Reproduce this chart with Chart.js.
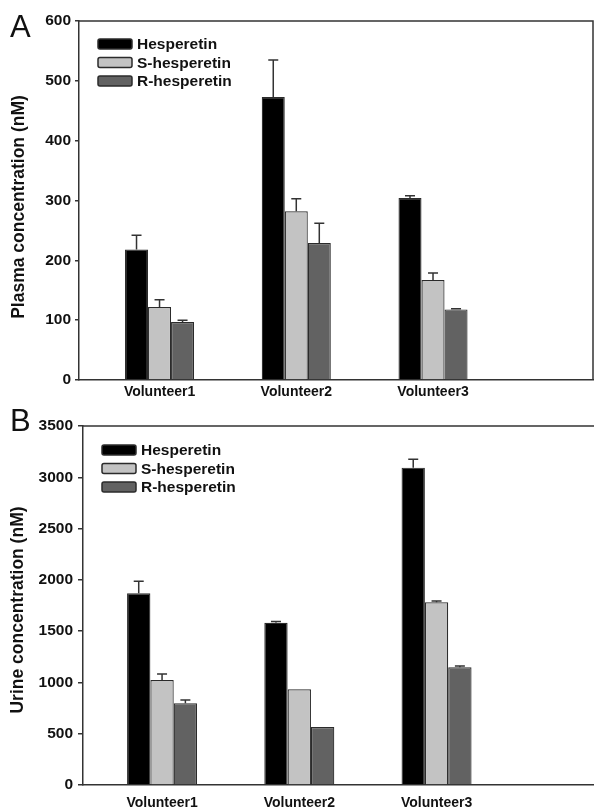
<!DOCTYPE html>
<html><head><meta charset="utf-8">
<script src="https://cdn.jsdelivr.net/npm/chart.js@4.4.1/dist/chart.umd.min.js"></script>
<style>
html,body{margin:0;padding:0;background:#fff;overflow:hidden;width:594px;height:812px;}
.panel{position:absolute;left:0;width:600px;height:406px;}
#pa{top:0}#pb{top:406px}
</style></head><body>
<div class="panel" id="pa"><canvas id="ca" width="600" height="406"></canvas></div>
<div class="panel" id="pb"><canvas id="cb" width="600" height="406"></canvas></div>
<script>
// ---- data ----
const categories = ['Volunteer1', 'Volunteer2', 'Volunteer3'];
const seriesNames = ['Hesperetin', 'S-hesperetin', 'R-hesperetin'];

const plasmaHesperetin    = [218, 473, 304];
const plasmaHesperetinErr = [24, 62, 4];
const plasmaS             = [122, 282, 167];
const plasmaSErr          = [12, 21, 12];
const plasmaR             = [97, 229, 118];
const plasmaRErr          = [3, 33, 1];
const plasmaTicks = [0, 100, 200, 300, 400, 500, 600];

const urineHesperetin    = [1869, 1582, 3094];
const urineHesperetinErr = [117, 12, 81];
const urineS             = [1024, 933, 1782];
const urineSErr          = [58, 0, 13];
const urineR             = [796, 565, 1147];
const urineRErr          = [33, 0, 13];
const urineTicks = [0, 500, 1000, 1500, 2000, 2500, 3000, 3500];

// ---- styling ----
const FONT = "'Liberation Sans', Arial, Helvetica, sans-serif";
const fills = ['#000000', '#c3c3c3', '#626262'];
const edge = '#2b2b2b';
Chart.defaults.font.family = FONT;
Chart.defaults.color = '#111';

function makeChart(canvas, cfg) {
  const datasets = cfg.series.map((vals, i) => ({
    label: seriesNames[i],
    data: vals.map((v, j) => ({ x: j + 1, y: v })),
    backgroundColor: fills[i],
    borderColor: edge,
    borderWidth: 1.2,
    categoryPercentage: cfg.catPct,
    barPercentage: 1.0
  }));

  const errorBars = {
    id: 'errorBars',
    afterDatasetsDraw(chart) {
      const ctx = chart.ctx, ys = chart.scales.y;
      ctx.save();
      ctx.strokeStyle = '#333';
      ctx.lineWidth = 1.5;
      cfg.errors.forEach((errs, di) => {
        const meta = chart.getDatasetMeta(di);
        meta.data.forEach((bar, j) => {
          const e = errs[j];
          if (!e) return;
          const yt = ys.getPixelForValue(cfg.series[di][j] + e);
          ctx.beginPath();
          ctx.moveTo(bar.x, bar.y);
          ctx.lineTo(bar.x, yt);
          ctx.moveTo(bar.x - 5, yt);
          ctx.lineTo(bar.x + 5, yt);
          ctx.stroke();
        });
      });
      ctx.restore();
    }
  };

  const decorations = {
    id: 'decorations',
    afterDraw(chart) {
      const ctx = chart.ctx, a = chart.chartArea;
      ctx.save();
      // frame top & right
      ctx.strokeStyle = '#333';
      ctx.lineWidth = 1.5;
      ctx.beginPath();
      ctx.moveTo(a.left, a.top);
      ctx.lineTo(a.right, a.top);
      ctx.lineTo(a.right, a.bottom);
      ctx.stroke();
      // legend
      const lx = a.left + cfg.legendDx;
      seriesNames.forEach((name, i) => {
        const cy = a.top + cfg.legendDy + i * 18.5;
        ctx.fillStyle = fills[i];
        ctx.strokeStyle = edge;
        ctx.lineWidth = 1.5;
        ctx.beginPath();
        if (ctx.roundRect) ctx.roundRect(lx, cy - 5, 34, 10, 2); else ctx.rect(lx, cy - 5, 34, 10);
        ctx.fill();
        ctx.stroke();
        ctx.fillStyle = '#111';
        ctx.font = 'bold 15.5px ' + FONT;
        ctx.textAlign = 'left';
        ctx.textBaseline = 'middle';
        ctx.fillText(name, lx + 39, cy + 1);
      });
      // panel letter
      ctx.fillStyle = '#111';
      ctx.font = '31px ' + FONT;
      ctx.textAlign = 'left';
      ctx.textBaseline = 'alphabetic';
      ctx.fillText(cfg.letter, 10, cfg.letterY);
      // y title
      ctx.save();
      ctx.translate(cfg.titleX, cfg.titleY);
      ctx.rotate(-Math.PI / 2);
      ctx.font = 'bold 17.5px ' + FONT;
      ctx.textAlign = 'center';
      ctx.textBaseline = 'middle';
      ctx.fillText(cfg.title, 0, 0);
      ctx.restore();
      ctx.restore();
    }
  };

  return new Chart(canvas, {
    type: 'bar',
    data: { datasets },
    plugins: [errorBars, decorations],
    options: {
      responsive: false,
      animation: false,
      devicePixelRatio: 1,
      layout: { padding: { top: cfg.padTop, right: cfg.padRight, left: 0, bottom: 0 } },
      plugins: { legend: { display: false }, tooltip: { enabled: false } },
      scales: {
        x: {
          type: 'linear',
          offset: false,
          min: cfg.xMin,
          max: cfg.xMax,
          grid: { display: false, drawTicks: false },
          border: { display: true, color: '#333', width: 1.5 },
          afterBuildTicks: s => { s.ticks = categories.map((c, i) => ({ value: i + 1 })); },
          afterFit: s => { s.height = cfg.xAxisH; },
          ticks: {
            autoSkip: false,
            maxRotation: 0,
            padding: cfg.xPad,
            color: '#111',
            font: { size: 14, weight: 'bold' },
            callback: (v, i) => categories[i]
          }
        },
        y: {
          type: 'linear',
          min: cfg.yTicks[0],
          max: cfg.yTicks[cfg.yTicks.length - 1],
          grid: { display: true, drawOnChartArea: false, drawTicks: true, tickLength: cfg.tickLen, color: '#333', lineWidth: 1.5 },
          border: { display: true, color: '#333', width: 1.5 },
          afterBuildTicks: s => { s.ticks = cfg.yTicks.map(v => ({ value: v })); },
          afterFit: s => { s.width = cfg.yAxisW; },
          ticks: {
            padding: cfg.tickLen,
            color: '#111',
            font: { size: 15.5, weight: 'bold' },
            callback: v => String(v)
          }
        }
      }
    }
  });
}

makeChart(document.getElementById('ca'), {
  series: [plasmaHesperetin, plasmaS, plasmaR],
  errors: [plasmaHesperetinErr, plasmaSErr, plasmaRErr],
  yTicks: plasmaTicks,
  catPct: 0.505,
  xMin: 0.411, xMax: 4.170,
  padTop: 21, padRight: 7, yAxisW: 79, xAxisH: 26, xPad: 4, tickLen: 4,
  legendDx: 19, legendDy: 23,
  letter: 'A', letterY: 37,
  title: 'Plasma concentration (nM)', titleX: 19.5, titleY: 207
});

makeChart(document.getElementById('cb'), {
  series: [urineHesperetin, urineS, urineR],
  errors: [urineHesperetinErr, urineSErr, urineRErr],
  yTicks: urineTicks,
  catPct: 0.51,
  xMin: 0.424, xMax: 4.169,
  padTop: 20, padRight: 3, yAxisW: 83, xAxisH: 27, xPad: 10, tickLen: 5,
  legendDx: 19, legendDy: 24,
  letter: 'B', letterY: 25,
  title: 'Urine concentration (nM)', titleX: 18.5, titleY: 204
});
</script>
</body></html>
